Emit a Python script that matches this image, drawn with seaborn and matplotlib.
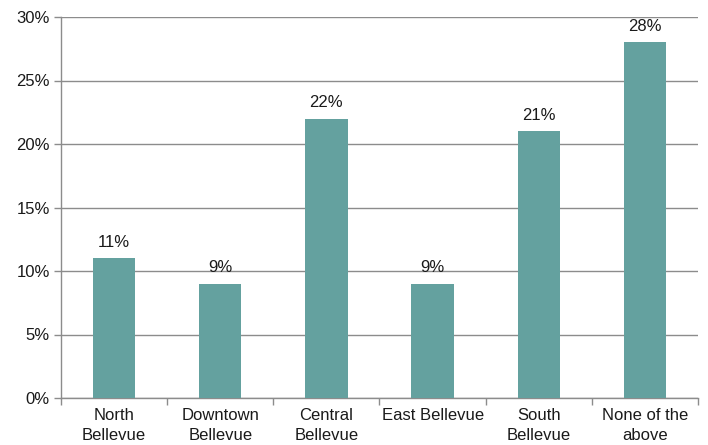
import matplotlib
matplotlib.use("Agg")
import matplotlib.pyplot as plt
from matplotlib.ticker import FixedLocator, PercentFormatter
import seaborn as sns
import pandas as pd
import numpy as np

categories = ["North\nBellevue", "Downtown\nBellevue", "Central\nBellevue",
              "East Bellevue", "South\nBellevue", "None of the\nabove"]
shares = [11, 9, 22, 9, 21, 28]
y_ticks = [0, 5, 10, 15, 20, 25, 30]

df = pd.DataFrame({"area": categories, "share": shares})

sns.set_theme(style="white")
plt.rcParams["font.family"] = ["Liberation Sans", "DejaVu Sans"]

fig = plt.figure(figsize=(7.08, 4.45), dpi=100)
ax = fig.add_axes([61 / 708, 1 - 398 / 445, (698 - 61) / 708, (398 - 17) / 445])

bar_color = "#64A19F"
sns.barplot(data=df, x="area", y="share", color=bar_color, width=0.4,
            saturation=1, ax=ax, zorder=3)
for p in ax.patches:
    p.set_edgecolor("none")

grid_color = "#8C8C8C"
text_color = "#1a1a1a"
fsize = 12
ax.set_ylim(0, 30)
ax.set_xlim(-0.5, len(categories) - 0.5)
ax.set_yticks(y_ticks)
ax.yaxis.set_major_formatter(PercentFormatter(decimals=0))
ax.yaxis.grid(True, color=grid_color, linewidth=1)
ax.set_axisbelow(True)

for s in ["top", "right"]:
    ax.spines[s].set_visible(False)
for s in ["left", "bottom"]:
    ax.spines[s].set_color(grid_color)
    ax.spines[s].set_linewidth(1)

ax.tick_params(axis="y", which="major", length=5, width=1, color=grid_color,
               left=True, labelsize=fsize, labelcolor=text_color, pad=3)
ax.set_xticks(range(len(categories)))
ax.set_xticklabels(categories, linespacing=1.45)
ax.tick_params(axis="x", which="major", length=0, labelsize=fsize,
               labelcolor=text_color, pad=7)
ax.xaxis.set_minor_locator(FixedLocator(np.arange(-0.5, len(categories), 1.0)))
ax.tick_params(axis="x", which="minor", length=5, width=1, color=grid_color,
               bottom=True)
ax.set_xlabel("")
ax.set_ylabel("")

for i, v in enumerate(shares):
    ax.annotate(f"{v}%", (i, v), xytext=(0, 6), textcoords="offset points",
                ha="center", va="bottom", fontsize=fsize, color=text_color)

fig.savefig("out.png", dpi=100)
